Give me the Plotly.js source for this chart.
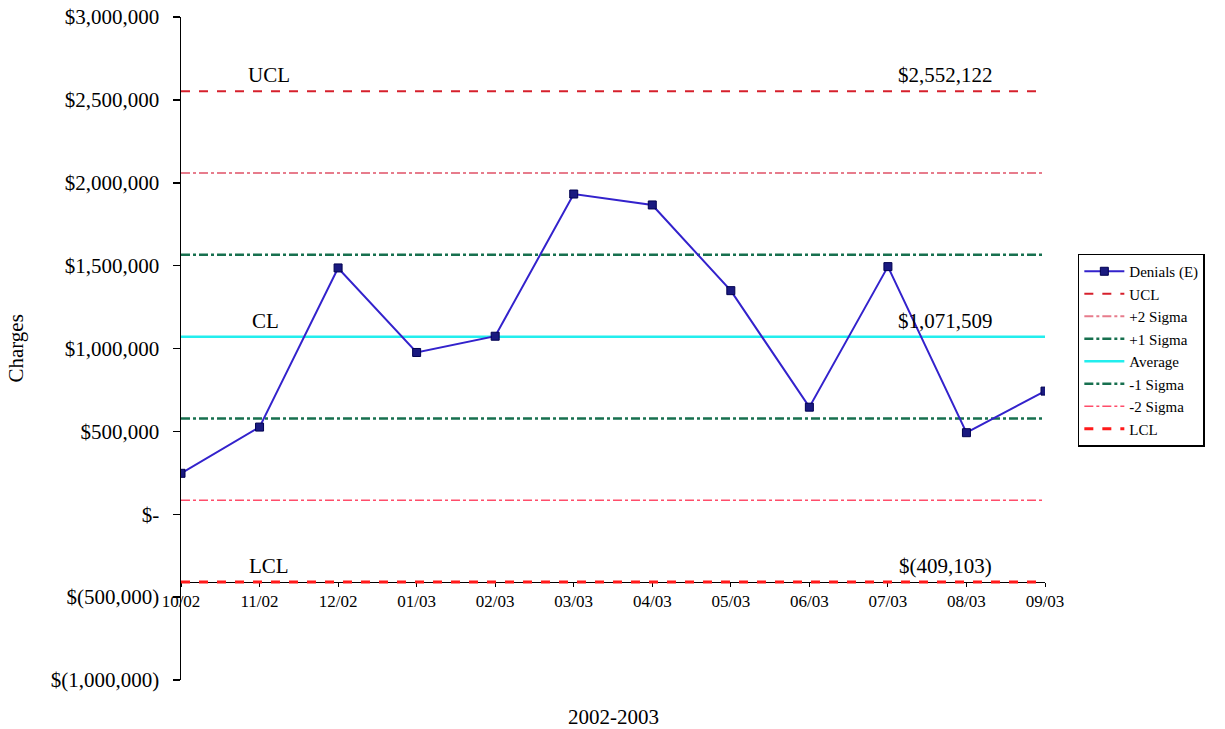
<!DOCTYPE html>
<html>
<head>
<meta charset="utf-8">
<script src="https://cdn.plot.ly/plotly-3.0.1.min.js"></script>
<style>html,body{margin:0;padding:0;background:#fff;}#chart{width:1225px;height:729px;}</style>
</head>
<body>
<div id="chart"></div>
<script>
// ---- data ----
const months = ["10/02","11/02","12/02","01/03","02/03","03/03","04/03","05/03","06/03","07/03","08/03","09/03"];
const denials = [247000, 526000, 1486000, 976000, 1074000, 1932000, 1866000, 1349000, 646000, 1494000, 492000, 743000];
const limitNames = ["UCL", "+2 Sigma", "+1 Sigma", "Average", "-1 Sigma", "-2 Sigma", "LCL"];
const limitValues = [2552122, 2058585, 1565047, 1071509, 577971, 84433, -409103];
const yTickVals = [3000000, 2500000, 2000000, 1500000, 1000000, 500000, 0, -500000, -1000000];
const yTickText = ["$3,000,000", "$2,500,000", "$2,000,000", "$1,500,000", "$1,000,000", "$500,000", "$-", "$(500,000)", "$(1,000,000)"];
const seriesName = "Denials (E)";
const xTitle = "2002-2003";
const yTitle = "Charges";

// ---- styles ----
const FONT = "Liberation Serif, Times New Roman, serif";
const limitStyles = [
  {color: "#d6202c", width: 2, dash: "dash"},
  {color: "#e77c8c", width: 2, dash: "dashdot"},
  {color: "#17704f", width: 2.5, dash: "dashdot"},
  {color: "#22eeee", width: 2.5, dash: "solid"},
  {color: "#17704f", width: 2.5, dash: "dashdot"},
  {color: "#ff4d6a", width: 1.5, dash: "dashdot"},
  {color: "#ff1a1a", width: 3, dash: "dash"}
];

function money(v) {
  const s = Math.abs(Math.round(v)).toLocaleString("en-US");
  return v < 0 ? "$(" + s + ")" : "$" + s;
}

const traces = [];
limitNames.forEach((n, i) => {
  traces.push({
    type: "scatter", mode: "lines", name: n,
    x: months, y: months.map(() => limitValues[i]),
    line: limitStyles[i], legendrank: i + 2, hoverinfo: "skip"
  });
});
traces.push({
  type: "scatter", mode: "lines+markers", name: seriesName,
  x: months, y: denials, legendrank: 1,
  line: {color: "#3322cc", width: 2},
  marker: {symbol: "square", size: 8, color: "#1a1a80", line: {color: "#000050", width: 1}}
});

const yr = [-1000000, 3000000];
const lclIdx = limitNames.indexOf("LCL");
const uclIdx = limitNames.indexOf("UCL");
const clIdx = limitNames.indexOf("Average");
const xPos = (limitValues[lclIdx] - yr[0]) / (yr[1] - yr[0]);

const annFont = {family: FONT, size: 21, color: "#000"};
function lab(text, xi, yv) {
  return {text: text, x: xi, y: yv, xref: "x", yref: "y", showarrow: false,
          xanchor: "center", yanchor: "bottom", yshift: 2, font: annFont};
}

const layout = {
  width: 1225, height: 729,
  margin: {l: 181, r: 180, t: 17, b: 49},
  paper_bgcolor: "#fff", plot_bgcolor: "#fff",
  font: {family: FONT, color: "#000"},
  showlegend: true,
  legend: {
    x: 1.038, y: 0.4977, xanchor: "left", yanchor: "middle",
    bordercolor: "#000", borderwidth: 1.5, bgcolor: "#fff",
    font: {family: FONT, size: 15, color: "#000"},
    tracegroupgap: 0, itemwidth: 40
  },
  xaxis: {
    type: "category", range: [0, months.length - 1],
    anchor: "free", position: xPos,
    showline: true, linecolor: "#000", linewidth: 1,
    ticks: "outside", ticklen: 4, tickcolor: "#000",
    showgrid: false, zeroline: false,
    tickfont: {family: FONT, size: 17, color: "#000"},
    layer: "below traces"
  },
  yaxis: {
    range: yr, tickmode: "array", tickvals: yTickVals, ticktext: yTickText,
    showline: true, linecolor: "#000", linewidth: 1.5,
    ticks: "outside", ticklen: 7, tickcolor: "#000", tickwidth: 1.5,
    ticklabelstandoff: 9,
    showgrid: false, zeroline: false,
    tickfont: {family: FONT, size: 21, color: "#000"}
  },
  annotations: [
    lab("UCL", 1.12, limitValues[uclIdx]),
    lab(money(limitValues[uclIdx]), 9.73, limitValues[uclIdx]),
    lab("CL", 1.07, limitValues[clIdx]),
    lab(money(limitValues[clIdx]), 9.73, limitValues[clIdx]),
    lab("LCL", 1.12, limitValues[lclIdx]),
    lab(money(limitValues[lclIdx]), 9.73, limitValues[lclIdx]),
    {text: xTitle, xref: "paper", yref: "paper", x: 0.5, y: -0.0558, xanchor: "center", yanchor: "middle",
     showarrow: false, font: {family: FONT, size: 21, color: "#000"}},
    {text: yTitle, xref: "paper", yref: "paper", x: -0.192, y: 0.5, xanchor: "center", yanchor: "middle",
     textangle: -90, showarrow: false, font: {family: FONT, size: 21, color: "#000"}}
  ]
};

Plotly.newPlot("chart", traces, layout, {displayModeBar: false, staticPlot: true});
</script>
</body>
</html>
